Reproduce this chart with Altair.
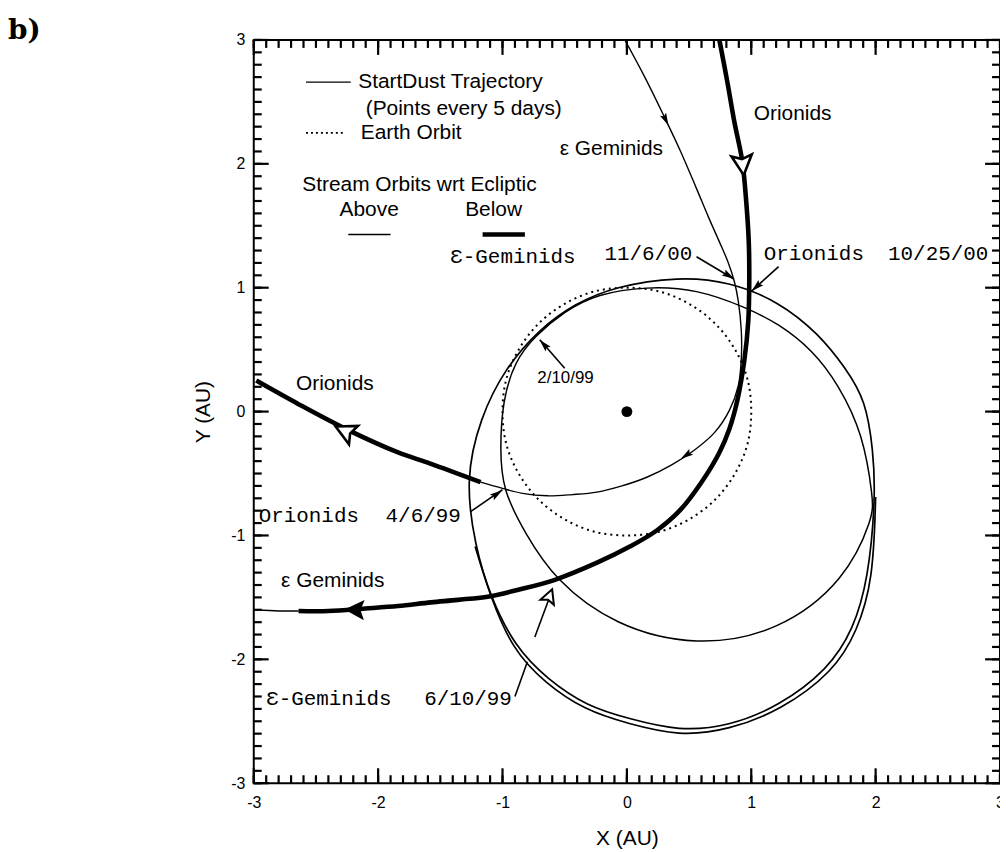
import altair as alt
import pandas as pd

SANS = "Liberation Sans, Arial, Helvetica, sans-serif"
MONO = "Liberation Mono, DejaVu Sans Mono, Courier New, monospace"

# ---------------- data (AU) ----------------
c1_thick_x = [0.744, 0.808, 0.864, 0.928, 0.96, 0.98, 0.984, 0.976, 0.944, 0.888, 0.824, 0.744, 0.60, 0.424, 0.24, 0.024,
              -0.24, -0.584, -0.88, -1.096, -1.36, -1.576, -1.84, -2.104, -2.40, -2.64]
c1_thick_y = [3.00, 2.66, 2.34, 2.02, 1.69, 1.37, 1.05, 0.73, 0.41, 0.09, -0.14, -0.33, -0.57, -0.80, -0.96, -1.09,
              -1.22, -1.36, -1.44, -1.49, -1.52, -1.54, -1.57, -1.59, -1.61, -1.61]
c1_thin_x = [-2.64, -2.80, -2.98]
c1_thin_y = [-1.61, -1.61, -1.60]
c2_thin_x = [-0.016, 0.144, 0.296, 0.432, 0.56, 0.656, 0.744, 0.816, 0.864, 0.896, 0.92, 0.92, 0.896, 0.824, 0.704,
             0.544, 0.36, 0.16, -0.04, -0.24, -0.44, -0.64, -0.84, -1.00, -1.176]
c2_thin_y = [3.00, 2.70, 2.39, 2.10, 1.80, 1.57, 1.37, 1.20, 1.05, 0.89, 0.65, 0.43, 0.21, 0.01, -0.17,
             -0.31, -0.43, -0.53, -0.60, -0.65, -0.67, -0.68, -0.66, -0.62, -0.57]
c2_thick_x = [-1.176, -1.58, -1.84, -2.24, -2.64, -2.98]
c2_thick_y = [-0.57, -0.42, -0.33, -0.15, 0.06, 0.25]
outer_x = [-1.30, -1.18, -0.98, -0.70, -0.42, -0.10, 0.42, 0.82, 1.22, 1.54, 1.76, 1.92, 1.98, 2.00, 1.94, 1.82, 1.62, 1.22, 0.82, 0.42, 0.02, -0.32, -0.64, -0.90, -1.10, -1.22]
outer_y = [-0.55, -0.05, 0.35, 0.67, 0.87, 1.01, 1.09, 1.05, 0.89, 0.63, 0.35, 0.09, -0.31, -0.69, -1.36, -1.76, -2.08, -2.38, -2.54, -2.58, -2.48, -2.38, -2.16, -1.90, -1.49, -1.09]
outer2_x = [-1.22, -1.10, -0.92, -0.66, -0.34, 0.01, 0.42, 0.82, 1.24, 1.66, 1.85, 1.98, 2.00]
outer2_y = [-1.09, -1.49, -1.92, -2.19, -2.41, -2.52, -2.62, -2.57, -2.41, -2.10, -1.78, -1.36, -0.69]
inner_x = [-1.02, -1.00, -0.90, -0.74, -0.50, -0.24, 0.16, 0.56, 0.96, 1.22, 1.50, 1.70, 1.90, 1.98, 1.98, 1.76, 1.22, 0.56, -0.10, -0.58, -0.82, -1.00]
inner_y = [-0.31, 0.09, 0.41, 0.61, 0.81, 0.95, 1.01, 0.99, 0.84, 0.71, 0.49, 0.22, -0.18, -0.71, -0.85, -1.36, -1.78, -1.90, -1.73, -1.36, -0.98, -0.63]
earth_x = [1.00, 0.97, 0.87, 0.71, 0.50, 0.26, 0.00, -0.26, -0.50, -0.71, -0.87, -0.97, -1.00, -0.97, -0.87, -0.71, -0.50, -0.26, 0.00, 0.26, 0.50, 0.71, 0.87, 0.97]
earth_y = [0.00, 0.26, 0.50, 0.71, 0.87, 0.97, 1.00, 0.97, 0.87, 0.71, 0.50, 0.26, 0.00, -0.26, -0.50, -0.71, -0.87, -0.97, -1.00, -0.97, -0.87, -0.71, -0.50, -0.26]
sun_x = [0.0]
sun_y = [0.0]

big_arrow_x = [0.93, -2.26, -2.18]
big_arrow_y = [2.00, -0.16, -1.60]
big_arrow_ang = [174, 296, 272]
big_arrow_open = [True, True, False]
small_arrow_x = [0.31, 0.48]
small_arrow_y = [2.36, -0.35]
small_arrow_ang = [154, 237]

ptr_x1 = [0.56, 1.22, -0.50, -1.26, -0.90, -0.74]
ptr_y1 = [1.25, 1.17, 0.35, -0.81, -2.30, -1.82]
ptr_x2 = [0.86, 1.00, -0.70, -1.00, -0.80, -0.60]
ptr_y2 = [1.07, 0.97, 0.58, -0.63, -2.02, -1.44]
head_x = [0.816, 1.044, -0.664, -1.048]
head_y = [1.10, 1.01, 0.538, -0.667]
head_ang = [121, 227, 317, 56]
open_head_x = [-0.624]
open_head_y = [-1.494]
open_head_ang = [21]

leg_solid_x = [-2.58, -2.22]; leg_solid_y = [2.66, 2.66]
leg_dot_x = [-2.58, -2.26]; leg_dot_y = [2.25, 2.25]
leg_thin_x = [-2.24, -1.90]; leg_thin_y = [1.43, 1.43]
leg_thick_x = [-1.16, -0.82]; leg_thick_y = [1.43, 1.43]

sans_text = ["StartDust Trajectory", "(Points every 5 days)", "Earth Orbit", "Stream Orbits wrt Ecliptic",
             "Above", "Below", "ε Geminids", "Orionids", "Orionids", "ε Geminids"]
sans_x = [-2.16, -2.10, -2.14, -2.61, -2.31, -1.30, -0.54, 1.02, -2.66, -2.78]
sans_y = [2.66, 2.44, 2.25, 1.83, 1.63, 1.63, 2.12, 2.40, 0.22, -1.37]
small_text = ["2/10/99"]
small_x = [-0.72]
small_y = [0.27]
mono_text = ["Ɛ-Geminids", "11/6/00", "Orionids", "10/25/00", "Orionids", "4/6/99", "Ɛ-Geminids", "6/10/99"]
mono_x = [-1.42, -0.18, 1.10, 2.10, -2.96, -1.94, -2.90, -1.63]
mono_y = [1.25, 1.27, 1.27, 1.27, -0.84, -0.84, -2.32, -2.32]
panel_text = ["b)"]
panel_x = [-4.976]
panel_y = [3.01]

major_ticks = [-3, -2, -1, 0, 1, 2, 3]
minor_ticks = [round(-3 + 0.1 * i, 1) for i in range(61)]

# ---------------- chart ----------------
PX_X = 125.0
PX_Y = 124.5
xscale = alt.Scale(domain=[-3, 3], nice=False, zero=False)
yscale = alt.Scale(domain=[-3, 3], nice=False, zero=False)
xaxis = alt.Axis(values=major_ticks, labelExpr="'' + datum.value", title="X (AU)", grid=False,
                 ticks=False, domain=False, labelFont=SANS, labelFontSize=16, labelPadding=11,
                 labelColor="black", titleFont=SANS, titleFontSize=21, titleFontWeight="normal",
                 titlePadding=18, titleColor="black", labelFlush=False)
yaxis = alt.Axis(values=major_ticks, labelExpr="'' + datum.value", title="Y (AU)", grid=False,
                 ticks=False, domain=False, labelFont=SANS, labelFontSize=16, labelPadding=9,
                 labelColor="black", titleFont=SANS, titleFontSize=21, titleFontWeight="normal",
                 titlePadding=17, titleColor="black", labelFlush=False)


def X(field="x"):
    return alt.X(f"{field}:Q", scale=xscale, axis=xaxis)


def Y(field="y"):
    return alt.Y(f"{field}:Q", scale=yscale, axis=yaxis)


def curve(xs, ys, width, interp="catmull-rom", dash=None):
    df = pd.DataFrame({"x": xs, "y": ys, "i": list(range(len(xs)))})
    kw = dict(color="black", strokeWidth=width, interpolate=interp, clip=True, strokeCap="butt", strokeJoin="round")
    if dash is not None:
        kw["strokeDash"] = dash
    return alt.Chart(df).mark_line(**kw).encode(x=X(), y=Y(), order="i:Q")


layers = []
layers.append(curve(earth_x, earth_y, 2.0, interp="cardinal-closed", dash=[2, 4]))
layers.append(curve(outer_x, outer_y, 1.7, interp="basis-closed"))
layers.append(curve(outer2_x, outer2_y, 1.7, interp="basis"))
layers.append(curve(inner_x, inner_y, 1.5, interp="basis-closed"))
layers.append(curve(c1_thick_x, c1_thick_y, 4.6))
layers.append(curve(c1_thin_x, c1_thin_y, 1.5))
layers.append(curve(c2_thin_x, c2_thin_y, 1.4))
layers.append(curve(c2_thick_x, c2_thick_y, 4.6))
layers.append(curve(leg_solid_x, leg_solid_y, 1.4, interp="linear"))
layers.append(curve(leg_dot_x, leg_dot_y, 1.8, interp="linear", dash=[2, 3]))
layers.append(curve(leg_thin_x, leg_thin_y, 1.4, interp="linear"))
layers.append(curve(leg_thick_x, leg_thick_y, 4.5, interp="linear"))

sun_df = pd.DataFrame({"x": sun_x, "y": sun_y})
layers.append(alt.Chart(sun_df).mark_point(
    shape="circle", filled=True, size=120, color="black", opacity=1).encode(x=X(), y=Y()))

pdf = pd.DataFrame({"x": ptr_x1, "y": ptr_y1, "x2": ptr_x2, "y2": ptr_y2})
layers.append(alt.Chart(pdf).mark_rule(color="black", strokeWidth=1.6).encode(
    x=X(), y=Y(), x2="x2:Q", y2="y2:Q"))

# inward ticks: short, heavy rule segments from the frame into the plot
tick_x1, tick_y1, tick_x2, tick_y2 = [], [], [], []
for vals, length in ((minor_ticks, 8.0), (major_ticks, 15.0)):
    lx = length / PX_X
    ly = length / PX_Y
    for v in vals:
        for (ax, ay, bx, by) in ((v, -3.0, v, -3.0 + ly), (v, 3.0, v, 3.0 - ly),
                                 (-3.0, v, -3.0 + lx, v), (3.0, v, 3.0 - lx, v)):
            tick_x1.append(float(ax)); tick_y1.append(float(ay))
            tick_x2.append(float(bx)); tick_y2.append(float(by))
tdf = pd.DataFrame({"x": tick_x1, "y": tick_y1, "x2": tick_x2, "y2": tick_y2})
layers.append(alt.Chart(tdf).mark_rule(color="#000000", strokeWidth=2.2, opacity=1).encode(
    x=X(), y=Y(), x2="x2:Q", y2="y2:Q"))

BIG = "M0,-1L0.9,0.75L0,0.42L-0.9,0.75Z"
NARROW = "M0,-1L0.5,0.8L0,0.5L-0.5,0.8Z"

bdf = pd.DataFrame({"x": big_arrow_x, "y": big_arrow_y, "a": big_arrow_ang, "o": big_arrow_open})
layers.append(alt.Chart(bdf[bdf["o"]]).mark_point(shape=BIG, size=520, filled=True, fill="white", stroke="black",
                                                  strokeWidth=2.6, opacity=1).encode(
    x=X(), y=Y(), angle=alt.Angle("a:Q", scale=None)))
layers.append(alt.Chart(bdf[~bdf["o"]]).mark_point(shape=BIG, size=520, filled=True, color="black", opacity=1).encode(
    x=X(), y=Y(), angle=alt.Angle("a:Q", scale=None)))
sdf = pd.DataFrame({"x": small_arrow_x, "y": small_arrow_y, "a": small_arrow_ang})
layers.append(alt.Chart(sdf).mark_point(shape=NARROW, size=190, filled=True, color="black", opacity=1).encode(
    x=X(), y=Y(), angle=alt.Angle("a:Q", scale=None)))
hdf = pd.DataFrame({"x": head_x, "y": head_y, "a": head_ang})
layers.append(alt.Chart(hdf).mark_point(shape=NARROW, size=200, filled=True, color="black", opacity=1).encode(
    x=X(), y=Y(), angle=alt.Angle("a:Q", scale=None)))
odf = pd.DataFrame({"x": open_head_x, "y": open_head_y, "a": open_head_ang})
layers.append(alt.Chart(odf).mark_point(shape=BIG, size=260, filled=True, fill="white", stroke="black",
                                        strokeWidth=2, opacity=1).encode(
    x=X(), y=Y(), angle=alt.Angle("a:Q", scale=None)))


def texts(txt, xs, ys, font, size, weight="normal", baseline="middle"):
    df = pd.DataFrame({"t": txt, "x": xs, "y": ys})
    return alt.Chart(df).mark_text(align="left", baseline=baseline, font=font, fontSize=size,
                                   fontWeight=weight, color="black").encode(x=X(), y=Y(), text="t:N")


layers.append(texts(sans_text, sans_x, sans_y, SANS, 21))
layers.append(texts(small_text, small_x, small_y, SANS, 17))
layers.append(texts(mono_text, mono_x, mono_y, MONO, 21))
layers.append(texts(panel_text, panel_x, panel_y, "DejaVu Serif", 28, weight="bold", baseline="alphabetic"))

chart = alt.layer(*layers).properties(
    width=750, height=747,
    autosize=alt.AutoSizeParams(type="none"),
    padding={"left": 247, "top": 30, "right": 0, "bottom": 64},
).configure_view(stroke="black", strokeWidth=2, fill="white")

chart.save("out.html", embed_options={"renderer": "svg", "actions": False})
